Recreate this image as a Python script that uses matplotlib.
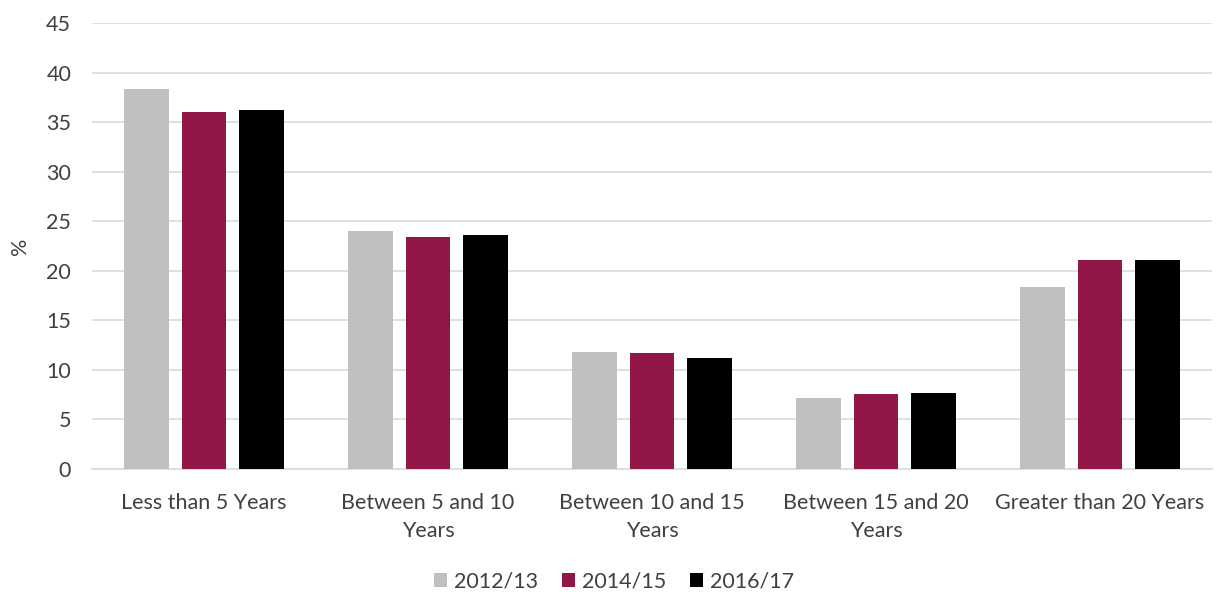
import matplotlib.pyplot as plt
import numpy as np

plt.switch_backend('agg')
plt.rcParams['font.family'] = ['Lato', 'DejaVu Sans']

# Data
categories = ['Less than 5 Years', 'Between 5 and 10\nYears', 'Between 10 and 15\nYears',
              'Between 15 and 20\nYears', 'Greater than 20 Years']
series_names = ['2012/13', '2014/15', '2016/17']
values_2012 = [38.3, 24.0, 11.8, 7.2, 18.4]
values_2014 = [36.0, 23.4, 11.7, 7.6, 21.1]
values_2016 = [36.2, 23.6, 11.2, 7.7, 21.1]

colors = ['#bfbfbf', '#911547', '#000000']
grid_color = '#d9d9d9'
text_color = '#404040'
fs = 15.5

fig = plt.figure(figsize=(12.16, 5.94), dpi=100)
ax = fig.add_axes([0.0757, 0.2104, 0.921, 0.7509])

x = np.arange(len(categories))
width = 0.2
step = 0.257
for i, (name, vals) in enumerate(zip(series_names, [values_2012, values_2014, values_2016])):
    ax.bar(x + (i - 1) * step, vals, width=width, color=colors[i], label=name, zorder=3)

ax.set_xlim(-0.5, len(categories) - 0.5)
ax.set_ylim(0, 45)
ax.set_yticks(range(0, 46, 5))
ax.yaxis.grid(True, color=grid_color, linewidth=1.2, zorder=0)
ax.set_xticks(x)
ax.set_xticklabels(categories, fontsize=fs, color=text_color, linespacing=1.5)
ax.tick_params(axis='both', length=0, labelsize=fs, labelcolor=text_color)
ax.tick_params(axis='x', pad=17)
ax.tick_params(axis='y', pad=15)

for side in ['top', 'right', 'left']:
    ax.spines[side].set_visible(False)
ax.spines['bottom'].set_color(grid_color)
ax.spines['bottom'].set_linewidth(1.2)

ax.set_ylabel('%', fontsize=fs, color=text_color)
ax.yaxis.set_label_coords(-0.055, 0.5)

fig.legend(loc='lower center', bbox_to_anchor=(0.505, -0.028), ncol=3, frameon=False,
           fontsize=fs, handlelength=0.6, handleheight=0.6, handletextpad=0.33,
           columnspacing=1.1, labelcolor=text_color)

plt.savefig('out.png', dpi=100)
